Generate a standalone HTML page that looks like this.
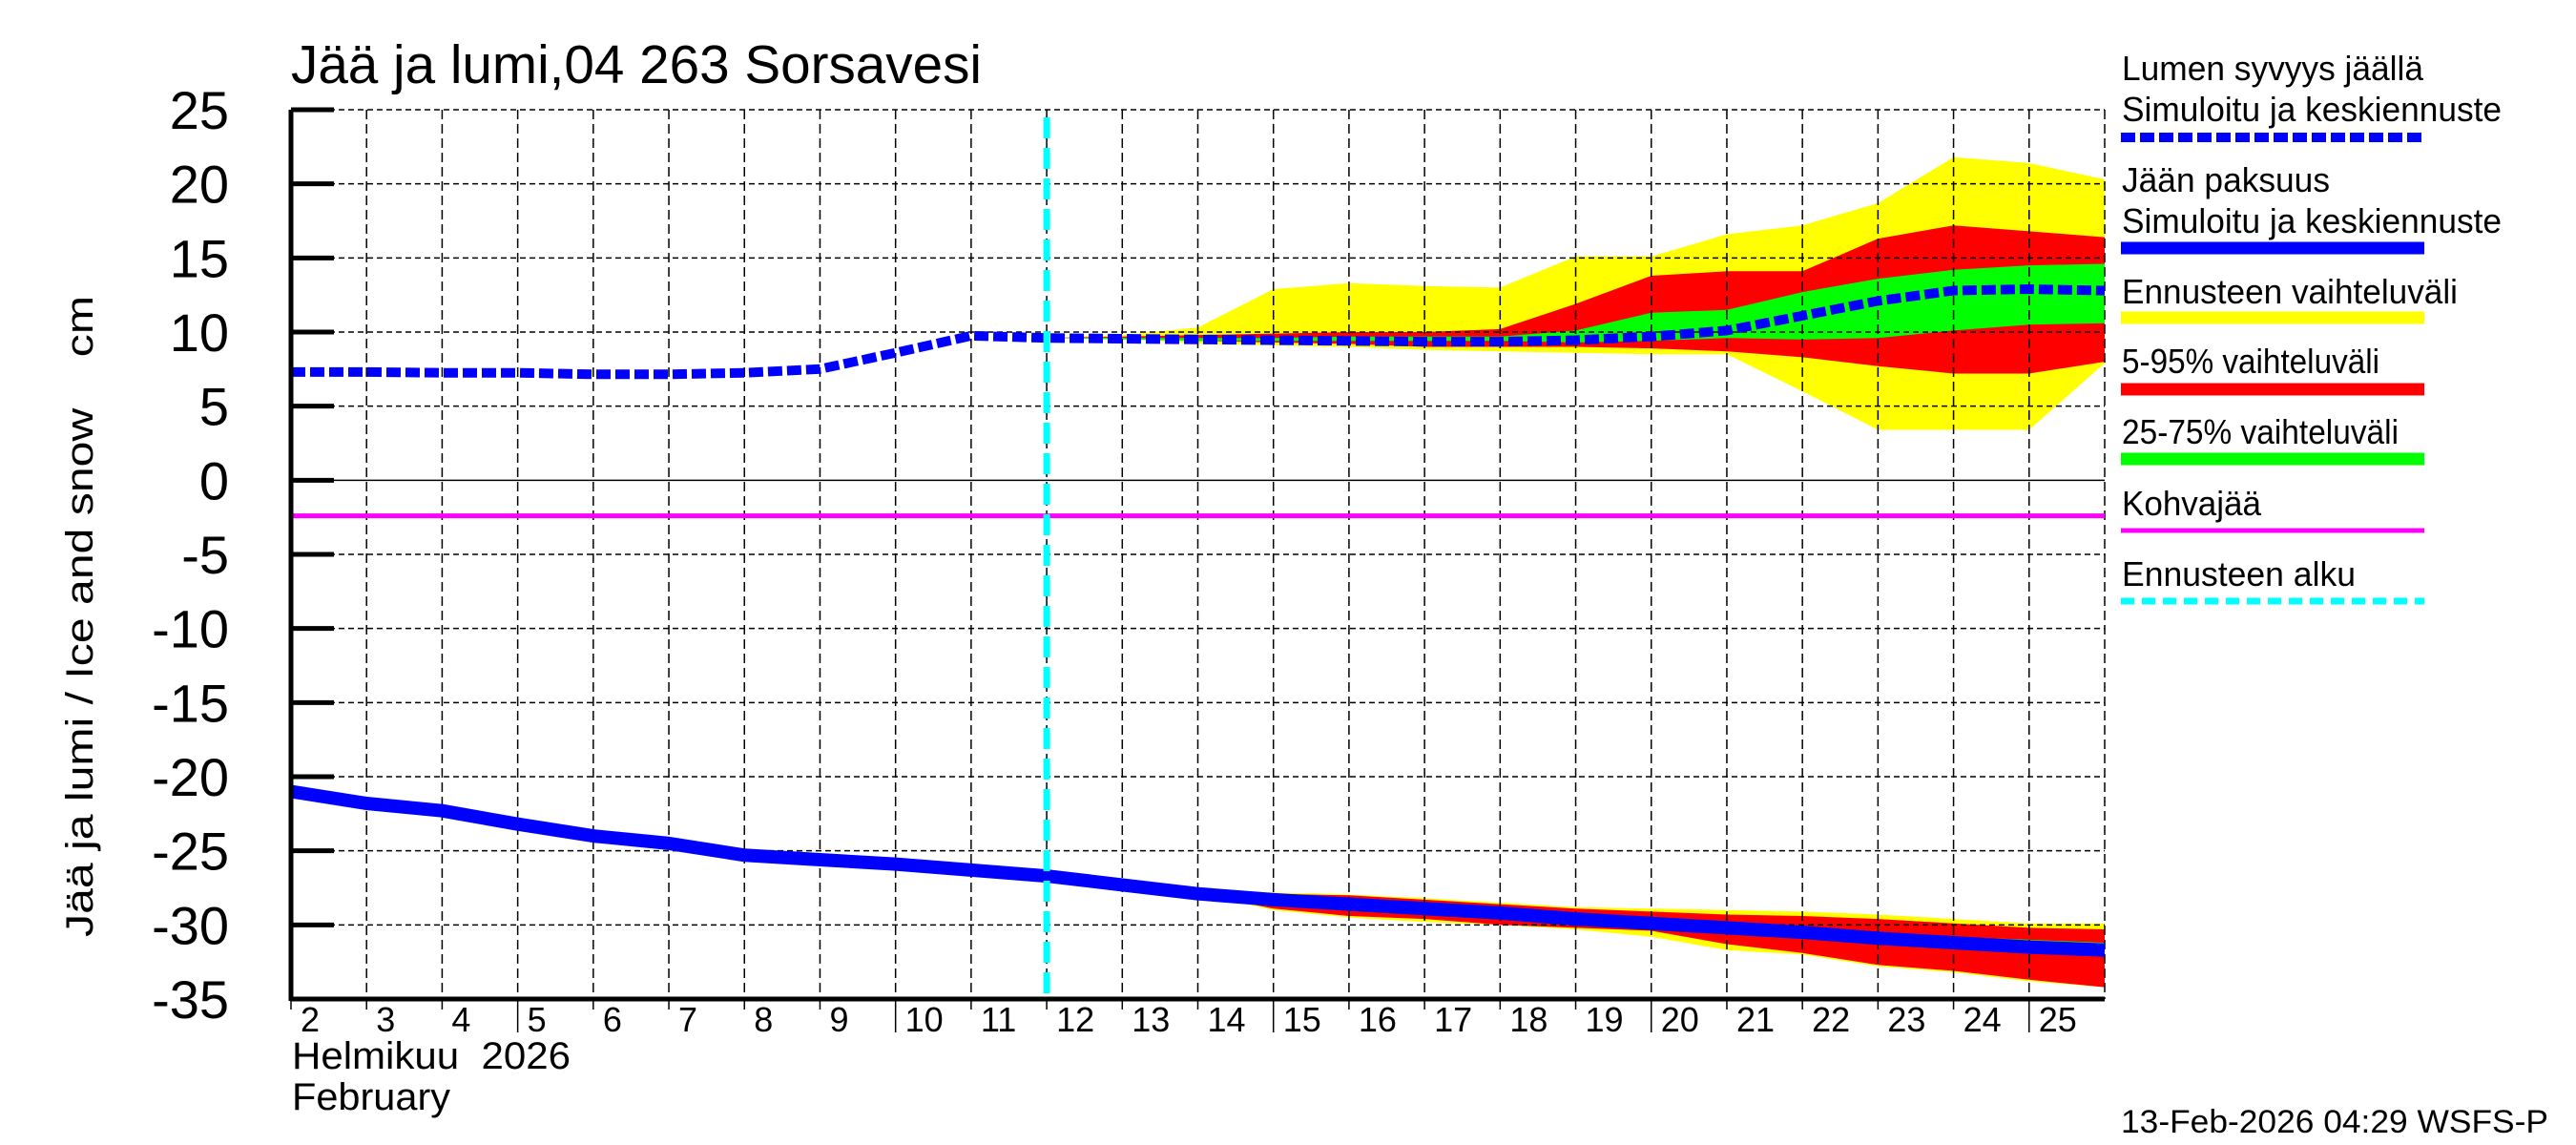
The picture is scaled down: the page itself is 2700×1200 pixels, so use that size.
<!DOCTYPE html>
<html><head><meta charset="utf-8"><style>html,body{margin:0;padding:0;background:#fff}svg{display:block}text{font-family:"Liberation Sans",sans-serif;fill:#000}</style></head>
<body>
<svg id="chart" xmlns="http://www.w3.org/2000/svg" width="2700" height="1200" viewBox="0 0 2700 1200">
<rect x="0" y="0" width="2700" height="1200" fill="#fff"/>
<text x="305" y="87" font-size="57" textLength="724" lengthAdjust="spacingAndGlyphs">Jää ja lumi,04 263 Sorsavesi</text>
<g id="bands"></g>
<g id="grid"></g>
<g id="lines"></g>
<g id="axes"></g>
<text transform="translate(97,646) rotate(-90)" text-anchor="middle" font-size="40" textLength="672" lengthAdjust="spacingAndGlyphs" style="white-space:pre">Jää ja lumi / Ice and snow&#160;&#160;&#160;&#160;cm</text>
<text x="306" y="1120" font-size="40" textLength="292" lengthAdjust="spacingAndGlyphs" style="white-space:pre">Helmikuu&#160;&#160;2026</text>
<text x="306" y="1163" font-size="40" textLength="166" lengthAdjust="spacingAndGlyphs">February</text>
<text x="2223" y="1187" font-size="34" textLength="448" lengthAdjust="spacingAndGlyphs">13-Feb-2026 04:29 WSFS-P</text>
<g id="legend">
<text x="2224" y="84" font-size="36" textLength="316" lengthAdjust="spacingAndGlyphs">Lumen syvyys jäällä</text>
<text x="2224" y="127" font-size="36" textLength="398" lengthAdjust="spacingAndGlyphs">Simuloitu ja keskiennuste</text>
<line x1="2223" y1="144" x2="2541" y2="144" stroke="#0000ff" stroke-width="10" stroke-dasharray="15 5"/>
<text x="2224" y="201" font-size="36" textLength="218" lengthAdjust="spacingAndGlyphs">Jään paksuus</text>
<text x="2224" y="244" font-size="36" textLength="398" lengthAdjust="spacingAndGlyphs">Simuloitu ja keskiennuste</text>
<line x1="2223" y1="260" x2="2541" y2="260" stroke="#0000ff" stroke-width="13"/>
<text x="2224" y="318" font-size="36" textLength="352" lengthAdjust="spacingAndGlyphs">Ennusteen vaihteluväli</text>
<line x1="2223" y1="333" x2="2541" y2="333" stroke="#ffff00" stroke-width="13"/>
<text x="2224" y="391" font-size="36" textLength="270" lengthAdjust="spacingAndGlyphs">5-95% vaihteluväli</text>
<line x1="2223" y1="408" x2="2541" y2="408" stroke="#ff0000" stroke-width="13"/>
<text x="2224" y="465" font-size="36" textLength="290" lengthAdjust="spacingAndGlyphs">25-75% vaihteluväli</text>
<line x1="2223" y1="481" x2="2541" y2="481" stroke="#00ff00" stroke-width="13"/>
<text x="2224" y="540" font-size="36" textLength="146" lengthAdjust="spacingAndGlyphs">Kohvajää</text>
<line x1="2223" y1="556" x2="2541" y2="556" stroke="#ff00ff" stroke-width="5"/>
<text x="2224" y="614" font-size="36" textLength="245" lengthAdjust="spacingAndGlyphs">Ennusteen alku</text>
<line x1="2223" y1="630" x2="2541" y2="630" stroke="#00ffff" stroke-width="7" stroke-dasharray="14 8"/>
</g>
</svg>
<script>
const yTicks = [25,20,15,10,5,0,-5,-10,-15,-20,-25,-30,-35];
const dayTicks = [2,3,4,5,6,7,8,9,10,11,12,13,14,15,16,17,18,19,20,21,22,23,24,25];
const snowDays = [2,3,4,5,6,7,8,9,10,11,12,13,14,15,16,17,18,19,20,21,22,23,24,25,26];
const snowMean = [7.3,7.3,7.25,7.25,7.15,7.15,7.25,7.5,8.6,9.75,9.6,9.55,9.5,9.45,9.4,9.35,9.35,9.45,9.7,10.1,11.1,12.1,12.8,12.9,12.8];
const iceDays = [2,3,4,5,6,7,8,9,10,11,12,13,14,15,16,17,18,19,20,21,22,23,24,25,26];
const iceMean = [-21,-21.8,-22.3,-23.2,-24,-24.5,-25.3,-25.6,-25.9,-26.3,-26.7,-27.3,-27.9,-28.3,-28.6,-28.9,-29.2,-29.6,-29.9,-30.2,-30.5,-30.9,-31.2,-31.5,-31.7];
const snowBandDays = [12,13,14,15,16,17,18,19,20,21,22,23,24,25,26];
const snowYellowUp = [9.6,9.8,10.3,12.9,13.3,13.1,13.0,15.1,15.1,16.6,17.2,18.7,21.8,21.4,20.3];
const snowYellowLo = [9.6,9.6,9.2,9.1,9.0,8.8,8.7,8.6,8.5,8.5,6.0,3.4,3.4,3.4,7.9];
const snowRedUp = [9.6,9.7,9.8,9.9,10.0,10.0,10.2,11.9,13.8,14.1,14.1,16.3,17.2,16.8,16.4];
const snowRedLo = [9.6,9.6,9.4,9.3,9.2,9.0,9.0,9.0,8.9,8.7,8.3,7.7,7.2,7.2,8.0];
const snowGreenUp = [9.6,9.6,9.6,9.6,9.7,9.7,9.7,10.1,11.3,11.5,12.7,13.6,14.2,14.5,14.6];
const snowGreenLo = [9.6,9.5,9.4,9.4,9.4,9.4,9.4,9.3,9.4,9.6,9.5,9.6,10.1,10.5,10.6];
const iceBandDays = [14,15,16,17,18,19,20,21,22,23,24,25,26];
const iceYellowUp = [-27.9,-27.8,-27.95,-28.2,-28.5,-28.8,-28.9,-29.0,-29.1,-29.3,-29.6,-29.9,-29.9];
const iceYellowLo = [-27.9,-29.0,-29.5,-29.8,-30.0,-30.3,-30.8,-31.7,-32.0,-32.8,-33.2,-33.8,-34.2];
const iceRedUp = [-27.9,-27.9,-28.0,-28.3,-28.6,-28.9,-29.1,-29.3,-29.4,-29.6,-29.9,-30.2,-30.3];
const iceRedLo = [-27.9,-28.9,-29.4,-29.6,-30.0,-30.2,-30.4,-31.3,-31.9,-32.7,-33.1,-33.7,-34.2];
const iceGreenUp = [-27.9,-28.2,-28.5,-28.8,-29.1,-29.4,-29.7,-30.0,-30.2,-30.5,-30.8,-31.0,-31.2];
const iceGreenLo = [-27.9,-28.4,-28.7,-29.0,-29.3,-29.7,-30.1,-30.4,-30.8,-31.2,-31.6,-31.9,-32.1];
const kohvaValue = -2.4;
const forecastStartDay = 12;

const NS = 'http://www.w3.org/2000/svg';
const X0 = 305, X1 = 2206, Y0 = 115, Y1 = 1047;
const dMin = 2, dMax = 26, vMax = 25, vMin = -35;
function xs(d){ return X0 + (d - dMin) / (dMax - dMin) * (X1 - X0); }
function ys(v){ return Y0 + (vMax - v) / (vMax - vMin) * (Y1 - Y0); }
function mk(tag, attrs, parent){
  const e = document.createElementNS(NS, tag);
  for (const k in attrs) e.setAttribute(k, attrs[k]);
  parent.appendChild(e);
  return e;
}
const bands = document.getElementById('bands');
const grid = document.getElementById('grid');
const lines = document.getElementById('lines');
const axes = document.getElementById('axes');

function band(days, up, lo, color, name){
  const pts = [];
  for (let i = 0; i < days.length; i++) pts.push(xs(days[i]).toFixed(1) + ',' + ys(up[i]).toFixed(1));
  for (let i = days.length - 1; i >= 0; i--) pts.push(xs(days[i]).toFixed(1) + ',' + ys(lo[i]).toFixed(1));
  const p = mk('polygon', {points: pts.join(' '), fill: color}, bands);
  
  
}
band(snowBandDays, snowYellowUp, snowYellowLo, '#ffff00', 'snow-range-band');
band(snowBandDays, snowRedUp, snowRedLo, '#ff0000', 'snow-5-95-band');
band(snowBandDays, snowGreenUp, snowGreenLo, '#00ff00', 'snow-25-75-band');
band(iceBandDays, iceYellowUp, iceYellowLo, '#ffff00', 'ice-range-band');
band(iceBandDays, iceRedUp, iceRedLo, '#ff0000', 'ice-5-95-band');
band(iceBandDays, iceGreenUp, iceGreenLo, '#00ff00', 'ice-25-75-band');

yTicks.forEach(v => {
  const y = ys(v);
  if (v !== vMin) {
    const g = mk('line', {x1: X0, y1: y, x2: X1, y2: y, stroke: '#000', 'stroke-width': 1.5, 'stroke-dasharray': v === 0 ? 'none' : '6 4'}, grid);
    
    
  }
  const t = mk('line', {x1: X0, y1: y, x2: X0 + 45, y2: y, stroke: '#000', 'stroke-width': 5}, axes);
  
  
  const lab = mk('text', {x: 240, y: y + 20, 'font-size': 56, 'text-anchor': 'end'}, axes);
  lab.textContent = String(v);
  
  
});
dayTicks.forEach(d => {
  const x = xs(d);
  if (d !== dMin) {
    const g = mk('line', {x1: x, y1: Y0, x2: x, y2: Y1, stroke: '#000', 'stroke-width': 1.5, 'stroke-dasharray': '10 5'}, grid);
    
    
  }
  const tk = mk('line', {x1: x, y1: Y1, x2: x, y2: (d % 5 === 0) ? 1082 : 1058, stroke: '#000', 'stroke-width': 1.5}, axes);
  
  
  const lab = mk('text', {x: x + 10, y: 1081, 'font-size': 36}, axes);
  lab.textContent = String(d);
  
  
});
const rb = mk('line', {x1: X1, y1: Y0, x2: X1, y2: Y1, stroke: '#000', 'stroke-width': 1.5, 'stroke-dasharray': '10 5'}, grid);



const kv = mk('line', {x1: X0, y1: ys(kohvaValue), x2: X1, y2: ys(kohvaValue), stroke: '#ff00ff', 'stroke-width': 5}, lines);



const iceP = iceDays.map((d, i) => xs(d).toFixed(1) + ',' + ys(iceMean[i]).toFixed(1)).join(' ');
const il = mk('polyline', {points: iceP, fill: 'none', stroke: '#0000ff', 'stroke-width': 14, 'stroke-linejoin': 'round'}, lines);



const snowP = snowDays.map((d, i) => xs(d).toFixed(1) + ',' + ys(snowMean[i]).toFixed(1)).join(' ');
const sl = mk('polyline', {points: snowP, fill: 'none', stroke: '#0000ff', 'stroke-width': 10, 'stroke-dasharray': '15 5'}, lines);



const fx = xs(forecastStartDay);
const fl = mk('line', {x1: fx, y1: 123, x2: fx, y2: Y1, stroke: '#00ffff', 'stroke-width': 7, 'stroke-dasharray': '22 10'}, lines);



const ax = mk('line', {x1: X0, y1: Y0, x2: X0, y2: Y1 + 2, stroke: '#000', 'stroke-width': 5}, axes);


const bx = mk('line', {x1: X0, y1: Y1, x2: X1, y2: Y1, stroke: '#000', 'stroke-width': 5}, axes);


</script>
</body></html>
